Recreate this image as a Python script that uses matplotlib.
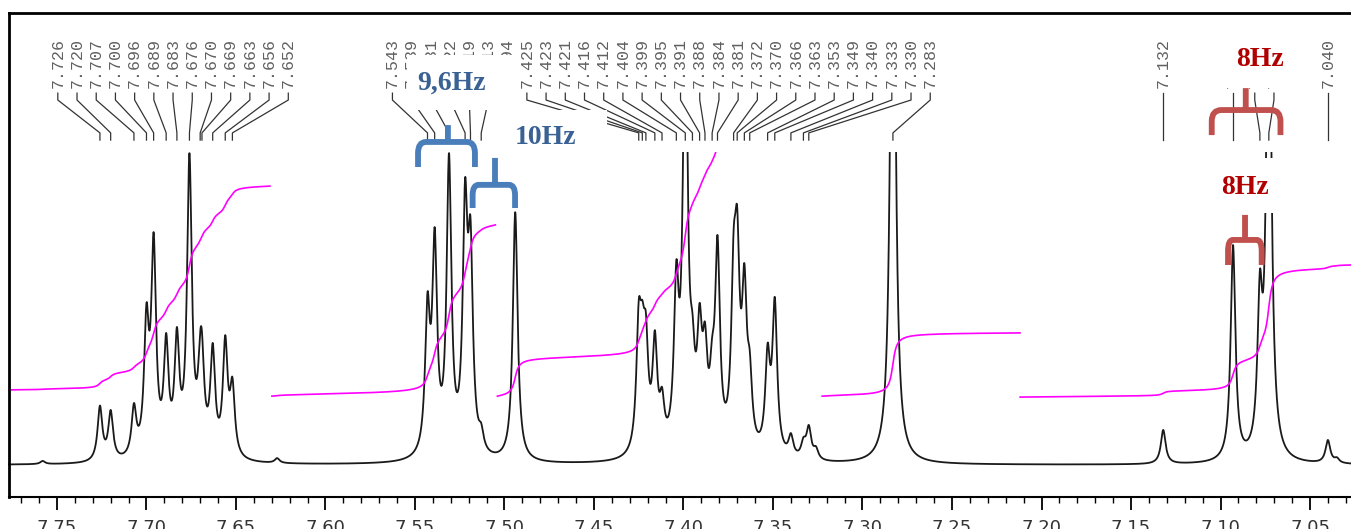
import numpy as np
import matplotlib
matplotlib.use("Agg")
import matplotlib.pyplot as plt
from matplotlib.patches import Rectangle, PathPatch
from matplotlib.path import Path
from matplotlib.ticker import MultipleLocator, FormatStrFormatter

# labelled peaks (ppm) and the height (1.0 = top of the display window)
peak_ppm = [7.726, 7.720, 7.707, 7.700, 7.696, 7.689, 7.683, 7.676, 7.670, 7.669,
            7.663, 7.656, 7.652,
            7.543, 7.539, 7.531, 7.522, 7.519, 7.513, 7.494,
            7.425, 7.423, 7.421, 7.416, 7.412, 7.404, 7.399, 7.395, 7.391, 7.388,
            7.384, 7.381, 7.372, 7.370, 7.366, 7.363, 7.353, 7.349, 7.340, 7.333,
            7.330, 7.283,
            7.132, 7.093, 7.078, 7.073, 7.040]
peak_height = [0.19, 0.176, 0.198, 0.518, 0.744, 0.422, 0.441, 0.997, 0.425, 0.425,
               0.39, 0.415, 0.281,
               0.553, 0.76, 0.997, 0.917, 0.792, 0.134, 0.808,
               0.527, 0.527, 0.486, 0.431, 0.249, 0.655, 1.5, 0.486, 0.518, 0.457,
               0.409, 0.735, 0.751, 0.824, 0.645, 0.367, 0.39, 0.537, 0.102, 0.089,
               0.128, 2.2,
               0.112, 0.703, 0.623, 1.8, 0.08]

# small unlabelled bumps
extra_ppm = [7.758, 7.627, 7.326, 7.035]
extra_height = [0.013, 0.022, 0.06, 0.025]

# integral traces: ppm range, level at start and at end
integral_from = [7.777, 7.630, 7.504, 7.3226, 7.212]
integral_to = [7.631, 7.505, 7.325, 7.212, 7.027]
integral_start = [0.24, 0.220, 0.220, 0.220, 0.217]
integral_end = [0.891, 0.767, 1.47, 0.422, 0.639]

XMIN, XMAX = 7.7768, 7.0271
HW = 0.0016          # half width of a line, ppm
CLIP = 1.0
LABEL_GAP = 0.01073  # label pitch, ppm


def lorentz(x, x0, g=HW):
    return g * g / ((x - x0) ** 2 + g * g)


def spread(ppms, gap):
    # put labels in clusters, each centred on its peaks, merge clusters that touch
    clusters = [[p] for p in ppms]
    while True:
        pos = []
        for c in clusters:
            mid = np.mean(c)
            pos.append([mid + gap * (len(c) - 1) / 2 - gap * i for i in range(len(c))])
        for i in range(len(clusters) - 1):
            if pos[i][-1] - pos[i + 1][0] < gap:
                clusters[i] = clusters[i] + clusters[i + 1]
                del clusters[i + 1]
                break
        else:
            return [x for p in pos for x in p]


def brace(ax, left, right, mid, y_end, y_bar, y_tip, color):
    rx = (right - left) * 0.14
    ry = (y_bar - y_end) * 0.45
    verts = [(left, y_end), (left, y_bar - ry), (left, y_bar), (left + rx, y_bar),
             (right - rx, y_bar), (right, y_bar), (right, y_bar - ry), (right, y_end),
             (mid, y_bar), (mid, y_tip)]
    codes = [Path.MOVETO, Path.LINETO, Path.CURVE3, Path.CURVE3,
             Path.LINETO, Path.CURVE3, Path.CURVE3, Path.LINETO,
             Path.MOVETO, Path.LINETO]
    ax.add_patch(PathPatch(Path(verts, codes), fill=False, edgecolor=color, lw=4.2,
                           capstyle="butt", joinstyle="round", zorder=5))


# amplitudes so that the summed lines give the heights
all_ppm = np.array(peak_ppm + extra_ppm)
target = np.array(peak_height + extra_height)
M = lorentz(all_ppm[:, None], all_ppm[None, :])
amp = np.linalg.solve(M.T @ M + 1e-4 * np.eye(len(all_ppm)), M.T @ target)
amp = np.clip(amp, 0, None)

ppm = np.linspace(XMIN, XMAX, 8000)
spec = (amp[None, :] * lorentz(ppm[:, None], all_ppm[None, :])).sum(axis=1)

fig = plt.figure(figsize=(13.51, 5.29), dpi=100)
ax = fig.add_axes([9 / 1351, 32 / 529, 1 - 9 / 1351, 484 / 529])
ax.set_xlim(XMIN, XMAX)
ax.set_ylim(-0.1022, 1.444)

window = Rectangle((7.0, -1.0), 1.0, 1.0 + CLIP, transform=ax.transData)
line, = ax.plot(ppm, spec, color="#1a1a1a", lw=1.3, zorder=2)
line.set_clip_path(window)

for a, b, s, e in zip(integral_from, integral_to, integral_start, integral_end):
    m = (ppm <= a) & (ppm >= b)
    c = np.cumsum(spec[m])
    c = (c - c[0]) / (c[-1] - c[0])
    il, = ax.plot(ppm[m], s + (e - s) * c, color="#ff00ff", lw=1.2, zorder=2)
    il.set_clip_path(window)

# peak labels and their leader lines
lab_pos = spread(sorted(peak_ppm, reverse=True), LABEL_GAP)
for p, lp in zip(sorted(peak_ppm, reverse=True), lab_pos):
    ax.plot([lp, lp, p, p], [1.188, 1.166, 1.061, 1.038], color="#333333", lw=0.9, zorder=1)
    ax.text(lp, 1.205, "%.3f" % p, rotation=90, ha="center", va="bottom",
            family="Liberation Mono", fontsize=12, color="#606060", zorder=1)

# white boxes of the pasted annotations
for x0, x1, y0, y1 in [(7.5544, 7.4907, 1.134, 1.31), (7.5053, 7.4427, 0.949, 1.134),
                       (7.103, 7.0556, 1.2045, 1.38), (7.1014, 7.0695, 0.805, 0.981)]:
    ax.add_patch(Rectangle((x1, y0), x0 - x1, y1 - y0, facecolor="white",
                           edgecolor="none", zorder=4))

serif = dict(family="Liberation Serif", fontweight="bold", fontsize=20,
             ha="center", va="center", zorder=6)
ax.text(7.5293, 1.2204, "9,6Hz", color="#3a6194", **serif)
ax.text(7.4768, 1.0447, "10Hz", color="#3a6194", **serif)
ax.text(7.0779, 1.297, "8Hz", color="#b00000", **serif)
ax.text(7.0863, 0.888, "8Hz", color="#b00000", **serif)

brace(ax, 7.5483, 7.5165, 7.5316, 0.952, 1.032, 1.086, "#4a7ebb")
brace(ax, 7.5178, 7.4941, 7.5053, 0.821, 0.895, 0.981, "#4a7ebb")
brace(ax, 7.1049, 7.0665, 7.0859, 1.054, 1.134, 1.204, "#c0504d")
brace(ax, 7.0958, 7.0770, 7.0863, 0.639, 0.719, 0.799, "#c0504d")

# axes frame
ax.spines["right"].set_visible(False)
ax.spines["top"].set_linewidth(2.0)
ax.spines["left"].set_linewidth(2.0)
ax.spines["bottom"].set_linewidth(1.5)
ax.set_yticks([])
ax.xaxis.set_major_locator(MultipleLocator(0.05))
ax.xaxis.set_minor_locator(MultipleLocator(0.01))
ax.xaxis.set_major_formatter(FormatStrFormatter("%.2f"))
ax.tick_params(axis="x", which="major", direction="out", length=9, width=1.3, pad=7,
               labelsize=13, labelcolor="#333333")
ax.tick_params(axis="x", which="minor", direction="out", length=4, width=1.0)
for t in ax.get_xticklabels():
    t.set_family(["Liberation Sans Narrow", "DejaVu Sans"])

fig.savefig("out.png", dpi=100)
